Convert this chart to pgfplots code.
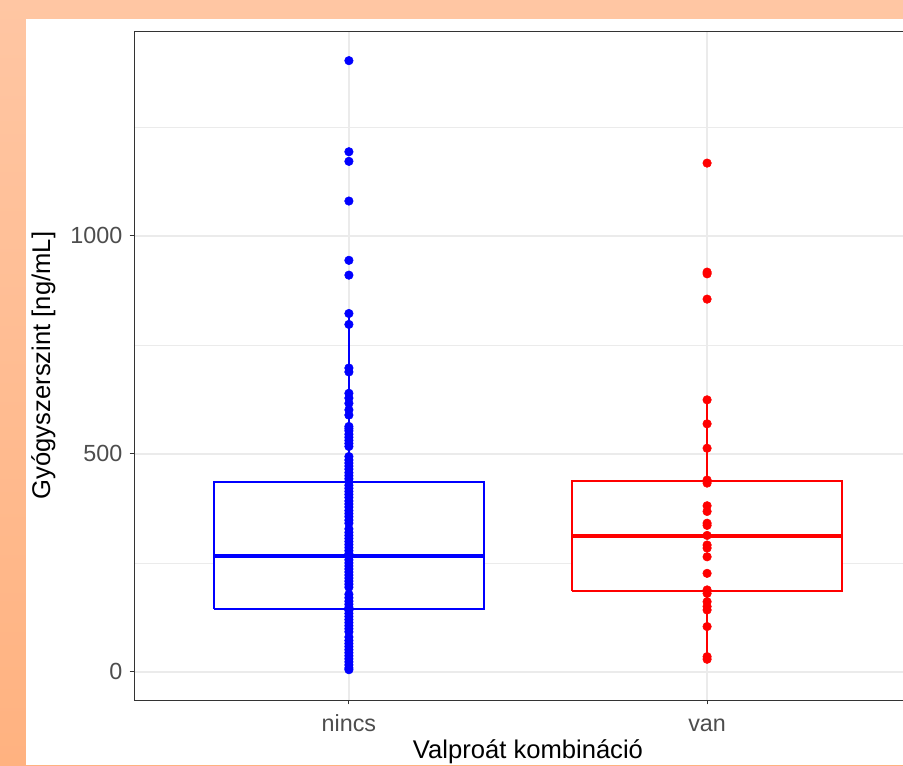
\documentclass[border=0pt]{standalone}
\usepackage{pgfplots}
\usepackage{pgfplotstable}
\pgfplotsset{compat=1.18}
\usepackage{fontspec}
\setmainfont{Liberation Sans}
\definecolor{bgtop}{RGB}{255,198,163}
\definecolor{bgbot}{RGB}{255,178,128}
\definecolor{gridc}{RGB}{235,235,235}
\definecolor{g20}{RGB}{51,51,51}
\definecolor{g30}{RGB}{77,77,77}
\pgfplotstableread{
x y
1 1402
1 1193
1 1171
1 1080
1 944
1 910
1 822
1 797
1 697
1 688
1 639
1 628
1 616
1 601
1 589
1 563
1 558
1 553
1 545
1 538
1 531
1 524
1 517
1 494
1 486
1 479
1 472
1 465
1 457
1 450
1 443
1 436
1 428
1 421
1 414
1 407
1 400
1 392
1 385
1 378
1 370
1 363
1 356
1 348
1 341
1 328
1 320
1 313
1 306
1 299
1 292
1 285
1 278
1 271
1 264
1 257
1 250
1 243
1 236
1 229
1 222
1 215
1 208
1 201
1 194
1 178
1 170
1 162
1 155
1 148
1 141
1 134
1 127
1 120
1 113
1 106
1 99
1 92
1 80
1 72
1 65
1 58
1 51
1 44
1 37
1 30
1 23
1 16
1 9
1 5
}\nincs
\pgfplotstableread{
x y
2 1167
2 917
2 913
2 855
2 624
2 569
2 513
2 440
2 433
2 381
2 368
2 341
2 336
2 313
2 291
2 284
2 264
2 226
2 188
2 180
2 161
2 150
2 142
2 104
2 35
2 29
}\van
\begin{document}
\begin{tikzpicture}
\useasboundingbox (0pt,0pt) rectangle (677.25pt,573.75pt);
\clip (0pt,0pt) rectangle (677.25pt,573.75pt);
\shade[top color=bgtop, bottom color=bgbot] (0pt,0pt) rectangle (677.25pt,573.75pt);
\fill[white] (19.5pt,0pt) rectangle (677.25pt,559.5pt);
\begin{axis}[
  at={(100.5pt,48.75pt)}, anchor=south west,
  scale only axis, width=591pt, height=501.75pt,
  xmin=0.4, xmax=2.6, ymin=-64.5, ymax=1470,
  xtick={1,2}, xticklabels={nincs,van},
  ytick={0,500,1000}, minor ytick={250,750,1250},
  /pgf/number format/assume math mode=true,
  /pgf/number format/1000 sep={},
  grid=both,
  major grid style={gridc, line width=1.1pt},
  minor grid style={gridc, line width=0.55pt},
  axis line style={g20, line width=0.65pt},
  tick align=outside, major tick length=3.3pt, minor tick length=0pt,
  major tick style={g20, line width=0.8pt},
  xtick pos=left, ytick pos=left,
  ticklabel style={font=\fontsize{17.5}{20}\selectfont, text=g30, inner sep=0pt},
  yticklabel style={anchor=east, xshift=-5.3pt},
  xticklabel style={anchor=base, yshift=-20.5pt},
  label style={font=\fontsize{19.2}{22}\selectfont},
  xlabel={Valproát kombináció}, ylabel={Gyógyszerszint [ng/mL]},
  xlabel style={at={(axis description cs:0.5,-0.0867)}, anchor=base, inner sep=0pt},
  ylabel style={at={(axis description cs:-0.1066,0.5)}, anchor=base, inner sep=0pt},
]
% nincs box
\addplot[blue, line width=1.1pt] coordinates {(1,5) (1,144.5)};
\addplot[blue, line width=1.1pt] coordinates {(1,436) (1,822)};
\addplot[blue, line width=1.1pt, fill=white] coordinates {(0.623,144.5) (1.377,144.5) (1.377,436) (0.623,436) (0.623,144.5)};
\addplot[blue, line width=2.8pt] coordinates {(0.623,266) (1.377,266)};
% van box
\addplot[red, line width=1.1pt] coordinates {(2,29) (2,186)};
\addplot[red, line width=1.1pt] coordinates {(2,438) (2,624)};
\addplot[red, line width=1.1pt, fill=white] coordinates {(1.623,186) (2.377,186) (2.377,438) (1.623,438) (1.623,186)};
\addplot[red, line width=2.8pt] coordinates {(1.623,312) (2.377,312)};
\addplot[only marks, mark=*, mark size=3.2pt, blue, mark options={draw=none, fill=blue}] table[x=x, y=y] {\nincs};
\addplot[only marks, mark=*, mark size=3.2pt, red, mark options={draw=none, fill=red}] table[x=x, y=y] {\van};
\end{axis}
\end{tikzpicture}
\end{document}
